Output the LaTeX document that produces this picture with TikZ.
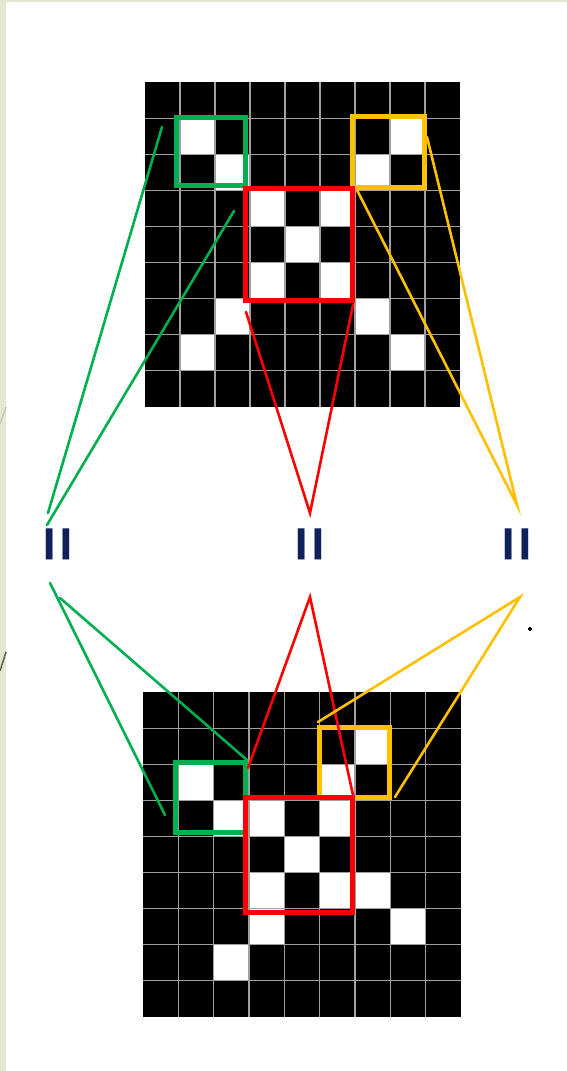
\documentclass[tikz,border=0pt]{standalone}
\usepackage{fontspec}
\setmainfont{Liberation Sans}
\definecolor{gcol}{RGB}{0,176,80}
\definecolor{rcol}{RGB}{255,0,0}
\definecolor{ycol}{RGB}{255,192,0}
\definecolor{ncol}{RGB}{16,32,90}
\definecolor{stripc}{RGB}{227,233,208}
\definecolor{gridl}{RGB}{160,160,160}
\definecolor{decoA}{RGB}{195,195,185}
\definecolor{decoB}{RGB}{110,100,80}
\tikzset{
  boxframe/.style={draw, line width=5pt, inner sep=0pt, fill=none},
  conn/.style={line width=2.6pt, line cap=round},
  eqsign/.style={inner sep=0pt, text=ncol, rotate=90, font=\bfseries\fontsize{62}{62}\selectfont},
  gridline/.style={draw=gridl, line width=1.1pt}
}
\begin{document}
\begin{tikzpicture}[x=1pt,y=-1pt]
\useasboundingbox (0,0) rectangle (567,1071);
\fill[white] (0,0) rectangle (567,1071);
\fill[stripc] (0,0) rectangle (6,1071);
\fill[stripc] (0,0) rectangle (567,1.5);
\draw[decoA, line width=1.3pt] (0,424) -- (6,407);
\draw[decoB, line width=1.6pt] (0,671) -- (6,652);

% top grid
\begin{scope}[xshift=145pt, yshift=-82pt, x=35pt, y=-36.11pt]
  \fill[black] (0,0) rectangle (9,9);
  \foreach \c/\r in {1/1,7/1,2/2,6/2,3/3,5/3,4/4,3/5,5/5,2/6,6/6,1/7,7/7}
    \fill[white] (\c,\r) rectangle ++(1,1);
  \foreach \i in {1,...,8} {
    \draw[gridline] (\i,0) -- (\i,9);
    \draw[gridline] (0,\i) -- (9,\i);
  }
\end{scope}

% bottom grid
\begin{scope}[xshift=143pt, yshift=-692pt, x=35.33pt, y=-36.11pt]
  \fill[black] (0,0) rectangle (9,9);
  \foreach \c/\r in {6/1,1/2,5/2,2/3,3/3,5/3,4/4,3/5,5/5,6/5,3/6,7/6,2/7}
    \fill[white] (\c,\r) rectangle ++(1,1);
  \foreach \i in {1,...,8} {
    \draw[gridline] (\i,0) -- (\i,9);
    \draw[gridline] (0,\i) -- (9,\i);
  }
\end{scope}

% highlight boxes
\node[boxframe, draw=gcol, minimum width=69.5pt, minimum height=68pt] (gtop) at (210.75,151.5) {};
\node[boxframe, draw=ycol, minimum width=72pt, minimum height=71pt] (ytop) at (388.5,152) {};
\node[boxframe, draw=rcol, minimum width=107pt, minimum height=112pt] (rtop) at (299,244.5) {};
\node[boxframe, draw=gcol, minimum width=70pt, minimum height=70pt] (gbot) at (210.5,797.5) {};
\node[boxframe, draw=ycol, minimum width=70pt, minimum height=70pt] (ybot) at (354.5,762.5) {};
\node[boxframe, draw=rcol, minimum width=107pt, minimum height=115pt] (rbot) at (299,855) {};

% equals signs
\node[eqsign] (eqL) at (62,544) {=};
\node[eqsign] (eqC) at (314,544) {=};
\node[eqsign] (eqR) at (521.5,544) {=};

% connector end points
\coordinate (gA1) at (48,513);   \coordinate (gA2) at (162,127);
\coordinate (gB1) at (47,525);   \coordinate (gB2) at (234,211);
\coordinate (rA) at (310,513);   \coordinate (rA1) at (246,312); \coordinate (rA2) at (353,305);
\coordinate (yA) at (517,505);   \coordinate (yA1) at (357,190); \coordinate (yA2) at (427,137);
\coordinate (gC1) at (50,583);   \coordinate (gC2) at (165,815);
\coordinate (gD1) at (60,598);   \coordinate (gD2) at (247,760);
\coordinate (rB) at (310,597);   \coordinate (rB1) at (248,768); \coordinate (rB2) at (353,795);
\coordinate (yB) at (520,597);   \coordinate (yB1) at (318,722); \coordinate (yB2) at (395,797);

\draw[conn, gcol] (gA1) -- (gA2);
\draw[conn, gcol] (gB1) -- (gB2);
\draw[conn, rcol] (rA1) -- (rA) -- (rA2);
\draw[conn, ycol] (yA1) -- (yA) -- (yA2);
\draw[conn, gcol] (gC1) -- (gC2);
\draw[conn, gcol] (gD1) -- (gD2);
\draw[conn, rcol] (rB1) -- (rB) -- (rB2);
\draw[conn, ycol] (yB1) -- (yB) -- (yB2);

% tiny mark
\coordinate (mk) at (530,629);
\draw[black, line width=1.1pt] ([xshift=-2pt]mk) -- ([xshift=2pt]mk);
\draw[black, line width=1.1pt] ([yshift=-2pt]mk) -- ([yshift=2pt]mk);
\end{tikzpicture}
\end{document}
